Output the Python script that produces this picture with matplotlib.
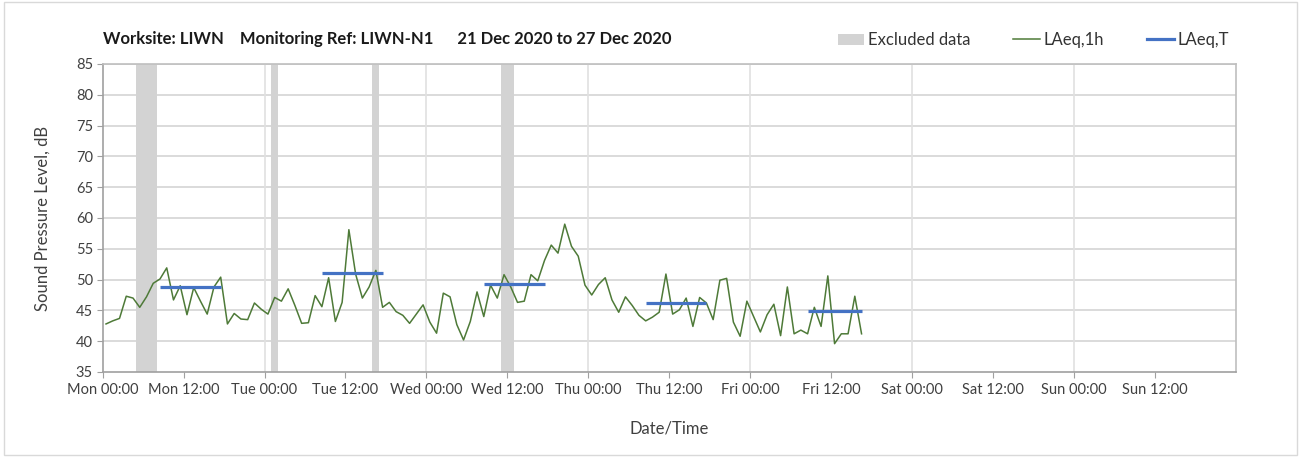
import matplotlib
matplotlib.use("Agg")
import matplotlib.pyplot as plt
from matplotlib.patches import Patch, Rectangle
from matplotlib.lines import Line2D
import numpy as np

plt.rcParams['font.family'] = ['Lato', 'DejaVu Sans']

# hourly LAeq values, Mon 00:30 onwards (one per hour)
laeq_1h = [
    42.8, 43.3, 43.7, 47.3, 47.0, 45.5, 47.2, 49.4, 50.1, 51.9,
    46.7, 49.0, 44.3, 48.7, 46.5, 44.4, 48.8, 50.4, 42.8, 44.5,
    43.6, 43.5, 46.2, 45.2, 44.4, 47.1, 46.5, 48.5, 45.8, 42.9,
    43.0, 47.4, 45.6, 50.3, 43.2, 46.3, 58.1, 50.9, 47.0, 48.8,
    51.5, 45.5, 46.3, 44.8, 44.2, 42.9, 44.4, 45.9, 43.1, 41.3,
    47.8, 47.2, 42.7, 40.2, 43.2, 48.0, 44.0, 49.1, 47.0, 50.8,
    48.8, 46.3, 46.5, 50.8, 49.8, 53.1, 55.6, 54.3, 59.0, 55.4,
    53.8, 49.1, 47.5, 49.2, 50.3, 46.7, 44.7, 47.2, 45.8, 44.2,
    43.3, 43.9, 44.7, 50.9, 44.4, 45.1, 47.0, 42.4, 47.1, 46.2,
    43.5, 49.9, 50.2, 43.1, 40.8, 46.5, 44.0, 41.5, 44.3, 46.0,
    40.9, 48.8, 41.2, 41.8, 41.2, 45.5, 42.4, 50.6, 39.6, 41.2,
    41.2, 47.3, 41.2,
]

# excluded periods (hours from Mon 00:00)
excl_start = [5, 25, 40, 59]
excl_end = [8, 26, 41, 61]

# daytime LAeq,T (hours from Mon 00:00)
laeqt_start = [8.5, 32.5, 56.5, 80.5, 104.5]
laeqt_end = [17.5, 41.5, 65.5, 89.5, 112.5]
laeqt_val = [48.8, 51.1, 49.3, 46.15, 44.95]

days = ['Mon', 'Tue', 'Wed', 'Thu', 'Fri', 'Sat', 'Sun']
tick_labels = [f"{d} {h}" for d in days for h in ('00:00', '12:00')]

green = '#4E7A38'
blue = '#4472C4'
grey = '#D3D3D3'

fig = plt.figure(figsize=(13.01, 4.57), dpi=100)
ax = fig.add_axes([0.0789, 0.186, 0.8711, 0.674])

fig.patches.append(Rectangle((0.003, 0.004), 0.994, 0.992, transform=fig.transFigure,
                             fill=False, edgecolor='#d9d9d9', linewidth=1))

for s, e in zip(excl_start, excl_end):
    ax.axvspan(s, e, color=grey, lw=0, zorder=1)

hours = np.arange(len(laeq_1h)) + 0.5
ax.plot(hours, laeq_1h, color=green, lw=1.1, zorder=3)

for s, e, v in zip(laeqt_start, laeqt_end, laeqt_val):
    ax.plot([s, e], [v, v], color=blue, lw=2.3, solid_capstyle='butt', zorder=4)

ax.set_xlim(0, 168)
ax.set_ylim(35, 85)
ax.set_yticks(range(35, 86, 5))
ax.set_xticks(np.arange(0, 168, 12))
ax.set_xticklabels(tick_labels)
ax.tick_params(axis='both', labelsize=10.5, colors='#404040', length=4, color='#a0a0a0')
ax.tick_params(axis='x', pad=4)
ax.tick_params(axis='y', pad=3)

for y in range(40, 86, 5):
    ax.axhline(y, color='#d4d4d4', lw=1.2, zorder=0)
for x in range(24, 168, 24):
    ax.axvline(x, color='#e0e0e0', lw=1.2, zorder=0)

for sp in ax.spines.values():
    sp.set_color('#bfbfbf')
    sp.set_linewidth(1.2)
ax.spines['left'].set_color('#a0a0a0')
ax.spines['bottom'].set_color('#a0a0a0')

ax.set_ylabel('Sound Pressure Level, dB', fontsize=12, color='#404040', labelpad=18)
ax.set_xlabel('Date/Time', fontsize=12, color='#404040', labelpad=17)

fig.text(0.079, 0.915, 'Worksite: LIWN    Monitoring Ref: LIWN-N1      21 Dec 2020 to 27 Dec 2020',
         fontsize=12, fontweight='bold', color='#1a1a1a', va='center')

handles = [Patch(facecolor=grey, edgecolor='none'),
           Line2D([], [], color=green, lw=1.1),
           Line2D([], [], color=blue, lw=2.3)]
fig.legend(handles, ['Excluded data', 'LAeq,1h', 'LAeq,T'], ncol=3, frameon=False,
           loc='center right', bbox_to_anchor=(0.956, 0.912), fontsize=12,
           handlelength=1.6, handletextpad=0.2, columnspacing=2.6, labelcolor='#333333')

fig.savefig('out.png', dpi=100)
